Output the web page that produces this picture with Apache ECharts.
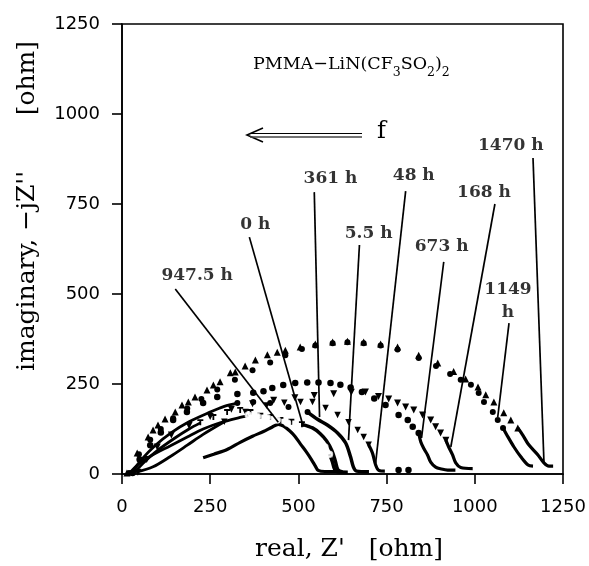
<!DOCTYPE html>
<html>
<head>
<meta charset="utf-8">
<script src="https://cdn.jsdelivr.net/npm/echarts@6/dist/echarts.min.js"></script>
<style>html,body{margin:0;padding:0;background:#fff}#c{width:589px;height:566px}</style>
</head>
<body>
<div id="c"></div>
<script>
// ---- axis ticks ----
var xTicks = [0, 250, 500, 750, 1000, 1250];
var yTicks = [0, 250, 500, 750, 1000, 1250];

// ---- series values (Z' real, -jZ'' imaginary) ----
// 1470 h : triangles
var h1470Dots = [[14,3],[43,58],[74,103],[88,122],[102,136],[122,153],[151,172],[170,192],[188,200],[207,214],[241,233],[259,247],[278,256],[307,281],[321,283],[349,300],[378,317],[412,331],[440,338],[463,344],[505,353],[548,361],[597,367],[639,369],[685,367],[733,361],[781,353],[841,330],[895,308],[940,285],[974,264],[1009,242],[1031,220],[1054,200],[1082,170],[1102,150],[1122,128]];
var h1470Tail = [[1122,128],[1136,108],[1153,81],[1179,53],[1196,31],[1210,22],[1222,22]];
// 1149 h : filled circles
var h1149Dots = [[20,3],[48,55],[80,95],[110,125],[145,155],[185,182],[225,208],[270,235],[320,262],[370,288],[420,310],[463,330],[510,347],[548,357],[597,363],[639,366],[685,363],[733,357],[781,346],[841,322],[890,300],[930,278],[960,262],[989,248],[1011,225],[1026,200],[1051,172],[1065,150],[1080,128]];
var h1149Tail = [[1080,128],[1094,103],[1111,75],[1131,47],[1151,25],[1165,22]];
// 673 h : filled circles
var h673Dots = [[30,3],[50,40],[80,80],[110,115],[145,150],[184,172],[230,197],[270,214],[327,222],[372,226],[401,230],[426,239],[457,247],[491,253],[525,254],[557,254],[591,253],[619,248],[648,240],[680,228],[715,210],[747,192],[784,164],[810,150],[824,131],[841,114]];
var h673Tail = [[841,114],[847,89],[856,70],[866,53],[875,33],[889,19],[905,14],[923,11],[945,11]];
// 168 h : inverted triangles
var h168Dots = [[45,5],[70,40],[100,75],[140,108],[190,135],[250,160],[310,180],[370,195],[430,205],[490,212],[545,218],[600,223],[650,227],[690,228],[727,215],[756,208],[781,197],[804,186],[827,178],[852,164],[875,150],[889,131],[903,114],[918,94]];
var h168Tail = [[918,94],[926,75],[937,53],[946,31],[960,18],[994,15]];
// 48 h : inverted triangles
var h48Line = [[40,5],[88,20],[136,48],[185,80],[230,110],[290,145]];
var h48Dots = [[290,145],[350,172],[410,190],[460,198],[506,200],[540,200],[577,183],[611,164],[642,144],[668,122],[685,103],[699,81]];
var h48Tail = [[699,81],[710,58],[719,25],[728,10],[745,8]];
// 5.5 h
var h55Line = [[28,3],[55,40],[95,80],[140,115],[190,145],[245,170],[290,188],[327,197]];
var h55Dots = [[327,197],[372,200],[420,197],[472,186],[526,172]];
var h55Tail = [[526,172],[554,152],[582,136],[611,114],[634,86],[648,47],[656,19],[665,8],[700,6]];
// 361 h
var h361Line = [[35,5],[65,35],[100,65],[150,100],[190,125],[222,142]];
var h361Dots = [[222,144],[259,158],[298,172],[335,178],[364,172],[392,162],[420,158],[449,150],[480,145],[510,138]];
var h361Tail = [[510,138],[540,128],[562,112],[580,92],[595,65],[605,35],[612,12],[625,6]];
// 0 h : open circles
var h0Line = [[22,3],[50,30],[90,55],[136,78],[185,103],[230,125],[280,143],[330,156],[358,162]];
var h0Dots = [[358,164],[384,160],[412,156],[440,150],[469,142],[497,131],[520,118],[543,104],[560,90],[575,75],[588,55]];
var h0Tail = [[588,55],[596,35],[602,15],[610,6],[640,5]];
// 947.5 h
var h9475Line = [[230,45],[260,55],[298,68],[335,88],[370,105],[401,118],[425,130],[443,138],[458,133],[475,120],[490,105],[506,83],[522,62],[537,40],[548,22],[556,10],[575,7],[610,7]];
// stray points on the baseline
var strayPts = [[784,11],[812,11]];

// ---- curve labels: text, anchor, leader line start and end ----
var labelText  = ['1470 h', '168 h', '1149\nh', '673 h', '48 h', '5.5 h', '361 h', '0 h', '947.5 h'];
var labelAt    = [[1102,911],[1026,781],[1094,481],[906,631],[827,828],[699,669],[591,822],[378,694],[213,550]];
var leaderFrom = [[1165,878],[1057,750],[1097,419],[912,589],[804,786],[673,636],[545,783],[361,658],[151,514]];
var leaderTo   = [[1196,33],[932,75],[1065,158],[849,100],[719,31],[642,94],[560,158],[514,131],[443,144]];

var invTri = 'path://M0,0L10,0L5,9Z';
var tee = 'path://M0,0H10V3H6.5V10H3.5V3H0Z';

function dots(name, data, symbol, size, extra) {
  var s = {type: 'scatter', name: name, data: data, symbol: symbol, symbolSize: size,
    itemStyle: {color: '#000', opacity: 1}, silent: true, z: 3};
  if (extra) for (var k in extra) s[k] = extra[k];
  return s;
}
function thick(name, data, w) {
  return {type: 'line', name: name, data: data, symbol: 'none', smooth: 0.3,
    lineStyle: {color: '#000', width: w || 3.2}, silent: true, z: 2};
}

var series = [
  dots('1470 h', h1470Dots, 'triangle', 7), thick('1470 h', h1470Tail),
  dots('1149 h', h1149Dots, 'circle', 6), thick('1149 h', h1149Tail),
  dots('673 h', h673Dots, 'circle', 6.5), thick('673 h', h673Tail),
  dots('168 h', h168Dots, invTri, 7), thick('168 h', h168Tail),
  thick('48 h', h48Line, 2.8), dots('48 h', h48Dots, invTri, 6.5), thick('48 h', h48Tail),
  thick('5.5 h', h55Line, 2.8), dots('5.5 h', h55Dots, 'circle', 6), thick('5.5 h', h55Tail, 3.5),
  thick('361 h', h361Line, 2.8), dots('361 h', h361Dots, tee, 6), thick('361 h', h361Tail, 3.5),
  thick('0 h', h0Line, 2.8),
  dots('0 h', h0Dots, 'emptyCircle', 5.5, {itemStyle: {color: '#fff', borderColor: '#000', borderWidth: 1.2}}),
  thick('0 h', h0Tail, 3.5),
  thick('947.5 h', h9475Line, 3.2),
  dots('stray', strayPts, 'circle', 6.5),
  {type: 'lines', coordinateSystem: 'cartesian2d', silent: true, z: 4,
   lineStyle: {color: '#000', width: 1.7, opacity: 1},
   data: leaderFrom.map(function (p, i) { return {coords: [p, leaderTo[i]]}; })},
  {type: 'scatter', silent: true, z: 5, symbolSize: 1, itemStyle: {color: 'transparent'},
   label: {show: true, position: 'inside', formatter: function (p) { return p.name; },
     fontFamily: 'DejaVu Serif', fontWeight: 'bold', fontSize: 17, color: '#000', lineHeight: 23},
   data: labelText.map(function (t, i) { return {name: t, value: labelAt[i]}; })}
];

var chart = echarts.init(document.getElementById('c'), null, {renderer: 'canvas'});
var axisCommon = {
  type: 'value', min: 0, max: 1250, interval: 250,
  axisLine: {show: true, lineStyle: {color: '#000', width: 1.6}},
  axisTick: {show: true, inside: false, length: 10, lineStyle: {color: '#000', width: 1.6}},
  splitLine: {show: false},
  axisLabel: {color: '#000', fontFamily: 'DejaVu Sans', fontSize: 18}
};
chart.setOption({
  animation: false,
  backgroundColor: '#fff',
  grid: {left: 122, right: 26, top: 24, bottom: 92, show: true, borderColor: '#000', borderWidth: 1.6, backgroundColor: 'transparent'},
  xAxis: Object.assign({}, axisCommon, {axisLabel: Object.assign({}, axisCommon.axisLabel, {margin: 24,
    formatter: function (v) { return xTicks.indexOf(v) >= 0 ? String(v) : ''; }})}),
  yAxis: Object.assign({}, axisCommon, {axisLabel: Object.assign({}, axisCommon.axisLabel, {margin: 22,
    formatter: function (v) { return yTicks.indexOf(v) >= 0 ? String(v) : ''; }})}),
  title: {
    text: '{m|PMMA\u2212LiN(CF}{s|3}{m|SO}{s|2}{m|)}{s|2}',
    left: 248, top: 50,
    textStyle: {fontWeight: 'normal', rich: {
      m: {fontFamily: 'DejaVu Serif', fontWeight: 'normal', fontSize: 17.5, color: '#000', lineHeight: 18, verticalAlign: 'top'},
      s: {fontFamily: 'DejaVu Serif', fontWeight: 'normal', fontSize: 12.5, color: '#000', lineHeight: 24, verticalAlign: 'bottom'}
    }}
  },
  graphic: [
    {type: 'polyline', shape: {points: [[263,128],[247,135],[263,142]]}, style: {stroke: '#000', lineWidth: 1.6, fill: null}},
    {type: 'line', shape: {x1: 250, y1: 133.5, x2: 362, y2: 133.5}, style: {stroke: '#000', lineWidth: 1.2}},
    {type: 'line', shape: {x1: 250, y1: 137, x2: 362, y2: 137}, style: {stroke: '#444', lineWidth: 1.6}},
    {type: 'text', left: 377, top: 120, style: {text: 'f', font: '24px "DejaVu Serif"', fill: '#000'}},
    {type: 'text', x: 27, y: 206, rotation: Math.PI / 2,
     style: {text: 'imaginary, \u2212jZ\'\'       [ohm]', font: '25px "DejaVu Serif"', fill: '#000', textAlign: 'center', textVerticalAlign: 'middle'}},
    {type: 'text', x: 349, y: 549,
     style: {text: 'real, Z\'   [ohm]', font: '25px "DejaVu Serif"', fill: '#000', textAlign: 'center', textVerticalAlign: 'middle'}}
  ],
  series: series
});
</script>
</body>
</html>
